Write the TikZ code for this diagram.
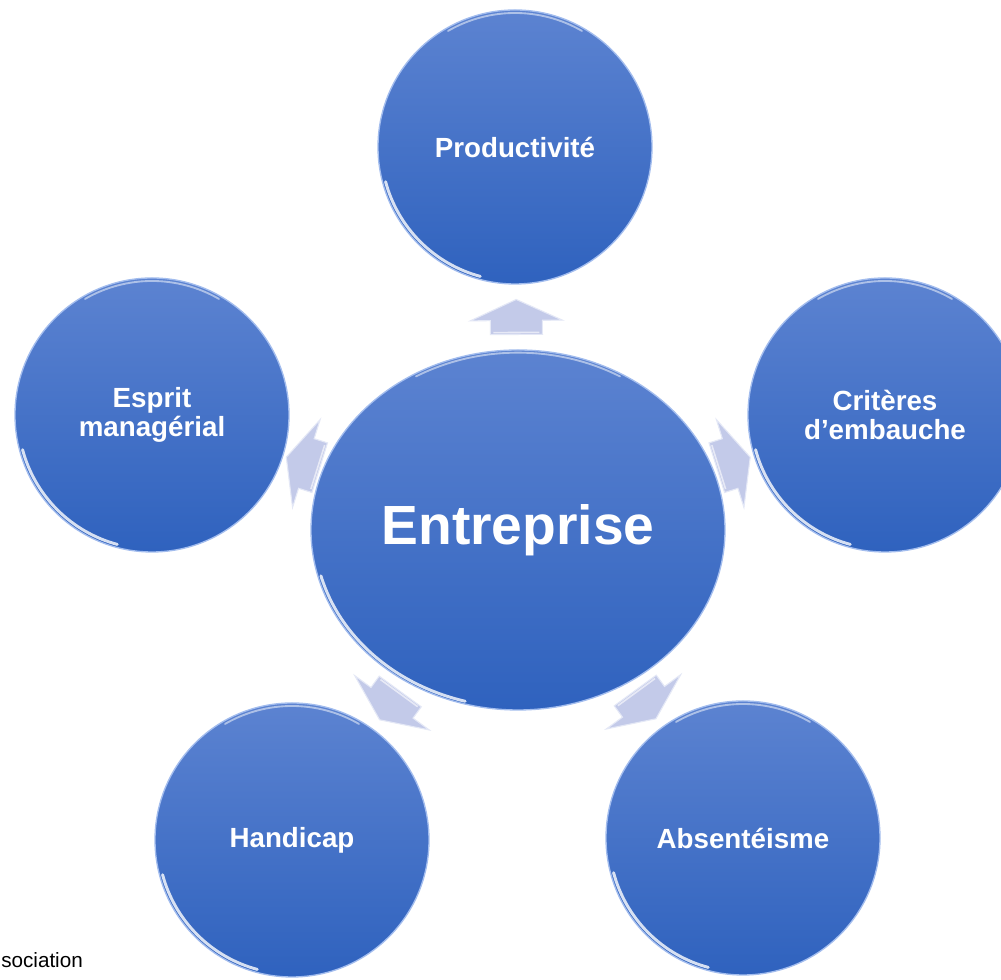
\documentclass[tikz,border=0pt]{standalone}
\usepackage{fontspec}
\setmainfont{Liberation Sans}
\usetikzlibrary{shapes.geometric,calc}
\definecolor{btop}{HTML}{5C83D1}
\definecolor{bbot}{HTML}{2F62BE}
\definecolor{brim}{HTML}{A3BDEE}
\definecolor{afill}{HTML}{C3CAE9}
\definecolor{aedge}{HTML}{E4E8F6}
\begin{document}
\begin{tikzpicture}[x=0.75pt,y=0.75pt,
  bubble/.style={circle, minimum size=205.5pt, inner sep=0pt, top color=btop, bottom color=bbot,
    draw=brim, line width=1pt, text=white, align=center,
    font=\bfseries\fontsize{20.8}{21.8}\selectfont},
  hub/.style={ellipse, minimum width=310.5pt, minimum height=270pt, inner sep=0pt,
    top color=btop, bottom color=bbot, draw=brim, line width=1pt, text=white,
    font=\bfseries\fontsize{41.4}{46}\selectfont},
  flowshape/.style={fill=afill, draw=aedge, line width=0.8pt, line join=miter},
  flowbevel/.style={white, line width=1.2pt, opacity=0.6},
  rim/.style={white, line width=2.2pt, opacity=0.8, line cap=round},
  softrim/.style={white, line width=1.4pt, opacity=0.5, line cap=round},
  flowarrow/.pic={
    \path[flowshape] (-17.5,-26) -- (-3.5,-26) -- (-3.5,-46) -- (17.5,0) -- (-3.5,46)
      -- (-3.5,26) -- (-17.5,26) -- cycle;
    \draw[flowbevel] (-15.5,23) -- (-15.5,-23);
  }
]
\useasboundingbox (0,0) rectangle (1001,980);
\fill[white] (0,0) rectangle (1001,980);
\clip (0,0) rectangle (1001,980);

\node[hub] (c) at (518,450) {Entreprise};
\node[bubble] (p) at (515,833) {Productivité};
\node[bubble] (e) at (152,565) {Esprit\\managérial};
\node[bubble] (k) at (885,565) {Critères\\d’embauche};
\node[bubble] (h) at (292,140) {Handicap};
\node[bubble] (a) at (743,142) {Absentéisme};

\foreach \n in {p,e,k,h,a}{
  \draw[rim] ([shift={(195:100.5pt)}]\n.center) arc[start angle=195, end angle=255, radius=100.5pt];
  \draw[softrim] ([shift={(60:100.5pt)}]\n.center) arc[start angle=60, end angle=120, radius=100.5pt];
}
\draw[rim] ([shift={(195:153pt and 133pt)}]c.center)
  arc[start angle=195, end angle=255, x radius=153pt, y radius=133pt];
\draw[softrim] ([shift={(60:153pt and 133pt)}]c.center)
  arc[start angle=60, end angle=120, x radius=153pt, y radius=133pt];

\path (c) -- (p) pic[pos=0.5, sloped, allow upside down] {flowarrow};
\path (c) -- (e) pic[pos=0.5, sloped, allow upside down] {flowarrow};
\path (c) -- (k) pic[pos=0.5, sloped, allow upside down] {flowarrow};
\path (c) -- (h) pic[pos=0.5, sloped, allow upside down] {flowarrow};
\path (c) -- (a) pic[pos=0.5, sloped, allow upside down] {flowarrow};

\node[anchor=base west, inner sep=0pt, font=\fontsize{15.5}{18}\selectfont] (src) at (1,12) {sociation};
\end{tikzpicture}
\end{document}
